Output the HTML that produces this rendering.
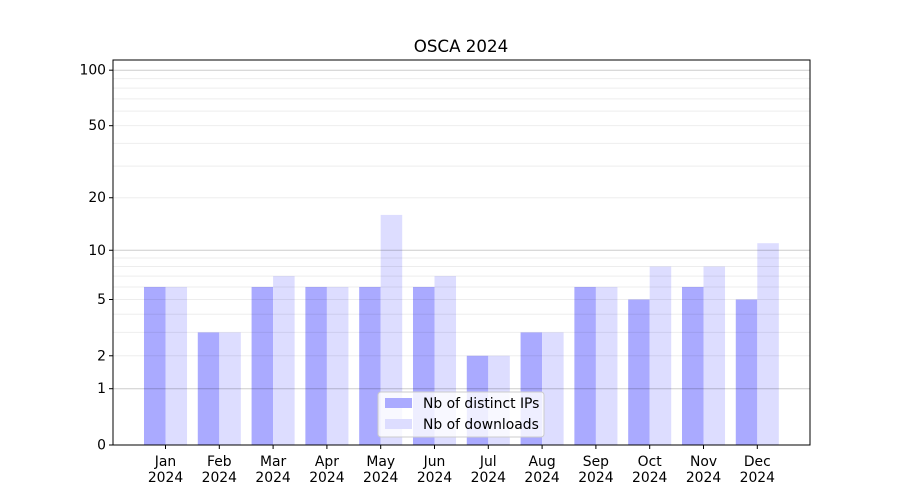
<!DOCTYPE html>
<html><head><meta charset="utf-8"><style>body{margin:0;background:#fff}svg{display:block;font-family:"DejaVu Sans","Liberation Sans",sans-serif}</style></head>
<body>
<svg id="c" width="900" height="500"></svg>
<script>
const months=["Jan","Feb","Mar","Apr","May","Jun","Jul","Aug","Sep","Oct","Nov","Dec"];
const ips=[6,3,6,6,6,6,2,3,6,5,6,5];
const downloads=[6,3,7,6,16,7,2,3,6,8,8,11];
const tickVals=[0,1,2,5,10,20,50,100];
const tickLabels=["0","1","2","5","10","20","50","100"];
const NS="http://www.w3.org/2000/svg",svg=document.getElementById('c');
const X0=113,X1=810,Y0=445,YT=60,K=187;
const y=v=>Y0-Math.log10(1+v)*K;
const step=53.8,c0=165.5;
const xc=i=>c0+i*step;
const bw=step*0.4;
function el(t,a,p){const e=document.createElementNS(NS,t);for(const k in a)e.setAttribute(k,a[k]);(p||svg).appendChild(e);return e;}
const bars=el('g',{});
months.forEach((m,i)=>{
 const a=el('rect',{x:xc(i)-bw,y:y(ips[i]),width:bw,height:Y0-y(ips[i]),fill:'#aaaaff'},bars);
 
 const b=el('rect',{x:xc(i),y:y(downloads[i]),width:bw,height:Y0-y(downloads[i]),fill:'#ddddff'},bars);
 
 const t=el('text',{x:xc(i),y:466,'font-size':13.9,'text-anchor':'middle'});
 el('tspan',{x:xc(i)},t).textContent=m;el('tspan',{x:xc(i),dy:16},t).textContent='2024';
 el('line',{x1:xc(i),x2:xc(i),y1:Y0,y2:Y0+4,stroke:'#000'});
});
const grid=el('g',{});
[1,10,100].forEach(v=>el('line',{x1:X0,x2:X1,y1:y(v),y2:y(v),stroke:'#000','stroke-opacity':0.2},grid));
[2,3,4,5,6,7,8,9,20,30,40,50,60,70,80,90].forEach(v=>el('line',{x1:X0,x2:X1,y1:y(v),y2:y(v),stroke:'#000','stroke-opacity':0.07},grid));
tickVals.forEach((v,i)=>{
 el('line',{x1:X0-4,x2:X0,y1:y(v),y2:y(v),stroke:'#000'});
 const t=el('text',{x:X0-7,y:y(v)+4.5,'font-size':13.9,'text-anchor':'end'});t.textContent=tickLabels[i];
 
});
const f=el('rect',{x:X0,y:YT,width:X1-X0,height:Y0-YT,fill:'none',stroke:'#000'});
const ti=el('text',{x:461,y:52,'font-size':16.7,'text-anchor':'middle'});ti.textContent='OSCA 2024';
const lg=el('g',{});
el('rect',{x:378,y:392,width:166,height:45,rx:3,fill:'#fff','fill-opacity':0.8,stroke:'#ccc'},lg);
el('rect',{x:385,y:398,width:27,height:10,fill:'#aaaaff'},lg);
el('rect',{x:385,y:419,width:27,height:10,fill:'#ddddff'},lg);
const l1=el('text',{x:423,y:408,'font-size':13.9},lg);l1.textContent='Nb of distinct IPs';
const l2=el('text',{x:423,y:429,'font-size':13.9},lg);l2.textContent='Nb of downloads';
</script>
</body></html>
